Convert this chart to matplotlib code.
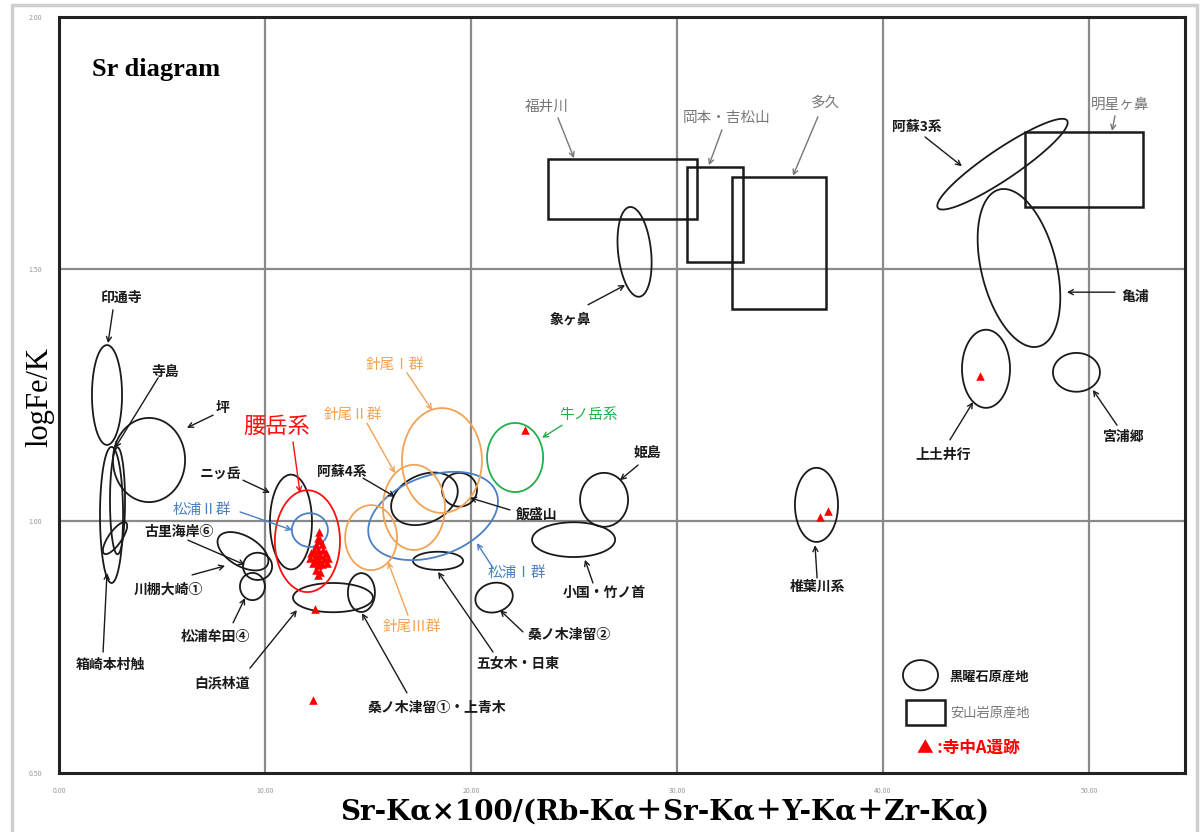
import numpy as np
import matplotlib
matplotlib.use('Agg')
import matplotlib.pyplot as plt
from matplotlib.patches import Polygon, Rectangle

plt.rcParams['font.family'] = ['Noto Sans CJK JP', 'DejaVu Sans']

# ---------------- data ----------------
x_ticks = [0, 10, 20, 30, 40, 50]
y_ticks = [0.5, 1.0, 1.5, 2.0]
x_lim = (0, 54.66)
y_lim = (0.5, 2.0)

# obsidian source areas (ellipses): name, centre x, centre y, width(x units), height(y units), tilt
obs_names = ['印通寺', '寺島', '箱崎本村触', '', '坪', 'ニッ岳', '古里海岸⑥', '川棚大崎①',
             '松浦牟田④', '白浜林道', '桑ノ木津留①・上青木', '五女木・日東', '桑ノ木津留②',
             '小国・竹ノ首', '姫島', '飯盛山', '阿蘇4系', '象ヶ鼻', '阿蘇3系', '亀浦',
             '上土井行', '宮浦郷', '椎葉川系']
obs_cx = [2.33, 2.84, 2.55, 2.72, 4.37, 11.26, 8.93, 9.64, 9.39, 13.30, 14.68, 18.40, 21.12,
          24.98, 26.46, 19.44, 17.74, 27.94, 45.80, 46.60, 45.00, 49.39, 36.77]
obs_cy = [1.250, 1.040, 1.012, 0.966, 1.121, 0.998, 0.940, 0.910, 0.870, 0.848, 0.858, 0.921,
          0.848, 0.963, 1.042, 1.062, 1.044, 1.534, 1.708, 1.502, 1.302, 1.295, 1.032]
obs_w = [1.46, 0.73, 1.12, 1.84, 3.50, 2.04, 2.72, 1.41, 1.21, 3.88, 1.31, 2.43, 1.84,
         4.03, 2.33, 1.70, 3.40, 1.60, 7.57, 3.64, 2.33, 2.28, 2.09]
obs_h = [0.198, 0.212, 0.270, 0.026, 0.167, 0.188, 0.060, 0.054, 0.054, 0.058, 0.077, 0.036,
         0.058, 0.069, 0.107, 0.067, 0.095, 0.179, 0.060, 0.321, 0.155, 0.077, 0.147]
obs_tilt = [0, 0, 0, 55, 0, 0, -30, 0, 0, 0, 0, 0, 15, 0, 0, 0, 25, 6, 34, 14, 0, 0, 0]

# coloured groups (ellipses)
grp_names = ['腰岳系', '松浦Ⅱ群', '松浦Ⅰ群', '針尾Ⅰ群', '針尾Ⅱ群', '針尾Ⅲ群', '牛ノ岳系']
grp_cx = [12.06, 12.18, 18.16, 18.59, 17.23, 15.15, 22.14]
grp_cy = [0.960, 0.982, 1.010, 1.120, 1.027, 0.967, 1.126]
grp_w = [3.16, 1.75, 6.55, 3.88, 3.01, 2.52, 2.72]
grp_h = [0.202, 0.067, 0.159, 0.208, 0.169, 0.129, 0.137]
grp_tilt = [0, 0, 20, 0, 0, 0, 0]
grp_kind = ['red', 'blue', 'blue', 'orange', 'orange', 'orange', 'green']

# andesite source areas (rectangles)
and_names = ['福井川', '岡本・吉松山', '多久', '明星ヶ鼻']
and_x0 = [23.74, 30.49, 32.67, 46.89]
and_x1 = [30.97, 33.20, 37.23, 52.62]
and_y0 = [1.599, 1.514, 1.421, 1.623]
and_y1 = [1.718, 1.702, 1.683, 1.772]

# 寺中A遺跡 samples
site_x = [22.62, 36.94, 37.33, 44.71, 12.43, 12.33,
          12.62, 12.57, 12.67, 12.48, 12.77, 12.38, 12.57, 12.82, 12.23, 12.48, 12.67, 12.96,
          12.18, 12.43, 12.62, 12.86, 13.06, 12.33, 12.57, 12.77, 13.01, 12.48, 12.67, 12.57]
site_y = [1.181, 1.008, 1.020, 1.288, 0.825, 0.645,
          0.978, 0.966, 0.962, 0.952, 0.954, 0.942, 0.942, 0.942, 0.937, 0.933, 0.933, 0.937,
          0.927, 0.923, 0.923, 0.925, 0.927, 0.917, 0.913, 0.915, 0.917, 0.903, 0.899, 0.893]

# labels: text, text position, leader from, leader to, style kind
lab_text = ['印通寺', '寺島', '坪', 'ニッ岳', '松浦Ⅱ群', '古里海岸⑥', '川棚大崎①', '松浦牟田④',
            '箱崎本村触', '腰岳系', '阿蘇4系', '針尾Ⅰ群', '針尾Ⅱ群', '針尾Ⅲ群', '飯盛山',
            '松浦Ⅰ群', '牛ノ岳系', '姫島', '小国・竹ノ首', '桑ノ木津留②', '五女木・日東',
            '桑ノ木津留①・上青木', '白浜林道', '象ヶ鼻', '福井川', '岡本・吉松山', '多久',
            '明星ヶ鼻', '阿蘇3系', '亀浦', '上土井行', '宮浦郷', '椎葉川系']
lab_x = [3.01, 5.15, 7.96, 7.82, 6.94, 5.83, 5.29, 7.57, 2.48, 10.58, 13.74, 16.31, 14.27,
         17.14, 23.20, 22.23, 25.68, 28.54, 26.46, 24.76, 22.28, 18.35, 7.91, 24.81, 23.69,
         32.43, 37.18, 51.50, 41.65, 52.23, 42.91, 51.65, 36.80]
lab_y = [1.442, 1.296, 1.224, 1.091, 1.022, 0.978, 0.863, 0.770, 0.714, 1.187, 1.097, 1.310,
         1.210, 0.790, 1.012, 0.897, 1.210, 1.135, 0.857, 0.774, 0.716, 0.629, 0.677, 1.399,
         1.821, 1.800, 1.829, 1.825, 1.782, 1.444, 1.131, 1.167, 0.869]
lead_x0 = [2.62, 4.81, 7.48, 8.93, 8.79, 6.26, 6.46, 8.45, 2.14, 11.36, 14.76, 16.89, 14.95,
           16.94, 21.89, 21.07, 24.42, 28.11, 25.92, 22.52, 21.07, 16.89, 9.27, 25.68, 24.22,
           32.18, 36.84, 51.26, 42.04, 51.26, 43.25, 51.36, 36.80]
lead_y0 = [1.419, 1.284, 1.210, 1.081, 1.018, 0.962, 0.893, 0.798, 0.740, 1.157, 1.085, 1.294,
           1.194, 0.813, 1.022, 0.907, 1.190, 1.111, 0.877, 0.780, 0.740, 0.659, 0.708, 1.429,
           1.800, 1.776, 1.802, 1.804, 1.762, 1.454, 1.161, 1.190, 0.887]
lead_x1 = [2.38, 2.72, 6.21, 10.24, 11.31, 9.03, 8.06, 9.03, 2.33, 11.70, 16.31, 18.11, 16.31,
           15.97, 19.95, 20.29, 23.45, 27.23, 25.53, 21.41, 18.40, 14.71, 11.55, 27.48, 25.00,
           31.55, 35.63, 51.12, 43.83, 48.93, 44.37, 50.19, 36.70]
lead_y1 = [1.353, 1.145, 1.185, 1.056, 0.982, 0.913, 0.911, 0.847, 0.897, 1.056, 1.048, 1.220,
           1.095, 0.919, 1.046, 0.956, 1.165, 1.081, 0.923, 0.823, 0.899, 0.817, 0.823, 1.468,
           1.720, 1.706, 1.685, 1.774, 1.704, 1.454, 1.236, 1.260, 0.952]
lab_kind = (['black'] * 4 + ['blue'] + ['black'] * 4 +
            ['red', 'black', 'orange', 'orange', 'orange', 'black', 'blue', 'green'] +
            ['black'] * 7 + ['gray'] * 4 + ['black'] * 5)

legend_text = ['黒曜石原産地', '安山岩原産地', '▲ :寺中A遺跡']

# ---------------- styles ----------------
colors = {'black': '#1a1a1a', 'red': '#ff1010', 'blue': '#4a80c4', 'orange': '#f2a355',
          'green': '#22b04a', 'gray': '#777777'}

W, H, DPI = 12.03, 8.32, 100
fig = plt.figure(figsize=(W, H), dpi=DPI)
ax_l, ax_b = 59 / 1203, 1 - 773 / 832
ax_w, ax_h = (1185 - 59) / 1203, (773 - 17) / 832
ax = fig.add_axes([ax_l, ax_b, ax_w, ax_h])
ax.set_xlim(*x_lim)
ax.set_ylim(*y_lim)

# outer light border
fig.patches.append(Rectangle((12 / 1203, -0.01), (1197 - 12) / 1203, (832 - 5) / 832 + 0.01,
                             transform=fig.transFigure, fill=False, ec='#cfcfcf', lw=2.5))

sx = ax_w * W * DPI / (x_lim[1] - x_lim[0])
sy = ax_h * H * DPI / (y_lim[1] - y_lim[0])


def ellipse_xy(cx, cy, w, h, tilt):
    t = np.linspace(0, 2 * np.pi, 240)
    u = w / 2 * np.cos(t) * sx
    v = h / 2 * np.sin(t) * sy
    a = np.deg2rad(tilt)
    ur = u * np.cos(a) - v * np.sin(a)
    vr = u * np.sin(a) + v * np.cos(a)
    return np.column_stack([cx + ur / sx, cy + vr / sy])


for v in x_ticks[1:]:
    ax.axvline(v, color='#8a8a8a', lw=1.6, zorder=0)
for v in y_ticks[1:-1]:
    ax.axhline(v, color='#8a8a8a', lw=1.6, zorder=0)

for cx, cy, w, h, t in zip(obs_cx, obs_cy, obs_w, obs_h, obs_tilt):
    ax.add_patch(Polygon(ellipse_xy(cx, cy, w, h, t), closed=True, fill=False,
                         ec=colors['black'], lw=1.3, zorder=3))
for cx, cy, w, h, t, k in zip(grp_cx, grp_cy, grp_w, grp_h, grp_tilt, grp_kind):
    ax.add_patch(Polygon(ellipse_xy(cx, cy, w, h, t), closed=True, fill=False,
                         ec=colors[k], lw=1.3, zorder=3))
for x0, x1, y0, y1 in zip(and_x0, and_x1, and_y0, and_y1):
    ax.add_patch(Rectangle((x0, y0), x1 - x0, y1 - y0, fill=False, ec=colors['black'],
                           lw=1.8, zorder=3))

ax.scatter(site_x, site_y, marker='^', s=38, color='#ff0000', lw=0, zorder=5)

for txt, tx, ty, x0, y0, x1, y1, k in zip(lab_text, lab_x, lab_y, lead_x0, lead_y0,
                                          lead_x1, lead_y1, lab_kind):
    col = colors[k]
    if k == 'red':
        ax.text(tx, ty, txt, color=col, fontsize=16, ha='center', va='center', zorder=6)
    elif k == 'black':
        ax.text(tx, ty, txt, color=col, fontsize=10, fontweight='bold', ha='center',
                va='center', zorder=6)
    else:
        ax.text(tx, ty, txt, color=col, fontsize=10.5, ha='center', va='center', zorder=6)
    ax.annotate('', xy=(x1, y1), xytext=(x0, y0),
                arrowprops=dict(arrowstyle='->,head_length=0.35,head_width=0.18', color=col,
                                lw=1.0, shrinkA=0, shrinkB=0), zorder=6)

# legend
ax.add_patch(Polygon(ellipse_xy(41.82, 0.694, 1.70, 0.060, 0), closed=True, fill=False,
                     ec=colors['black'], lw=1.3))
ax.add_patch(Rectangle((41.12, 0.595), 1.89, 0.050, fill=False, ec=colors['black'], lw=1.8))
ax.text(43.25, 0.690, legend_text[0], fontsize=9.5, fontweight='bold', color=colors['black'],
        va='center')
ax.text(43.25, 0.619, legend_text[1], fontsize=9.5, color=colors['gray'], va='center')
ax.text(41.65, 0.550, legend_text[2], fontsize=12, fontweight='bold', color='#ff0000',
        va='center')

ax.text(1.6, 1.895, 'Sr diagram', family='Liberation Serif', fontweight='bold', fontsize=19,
        va='center')

ax.set_xticks(x_ticks)
ax.set_yticks(y_ticks)
ax.set_xticklabels([f'{v:.2f}' for v in x_ticks])
ax.set_yticklabels([f'{v:.2f}' for v in y_ticks])
ax.tick_params(length=0, labelsize=5, labelcolor='#9a9a9a')
ax.tick_params(axis='x', pad=10)
ax.tick_params(axis='y', pad=12)
for s in ax.spines.values():
    s.set_linewidth(2.2)
    s.set_color('#222222')

fig.text(665 / 1203, 1 - 812 / 832, 'Sr-Kα×100/(Rb-Kα＋Sr-Kα＋Y-Kα＋Zr-Kα)',
         family=['DejaVu Serif', 'Noto Sans CJK JP'], fontweight='bold', fontsize=20,
         ha='center', va='center')
fig.text(40 / 1203, 1 - 397 / 832, 'logFe/K', family='Liberation Serif', fontsize=22,
         rotation=90, ha='center', va='center')

fig.savefig('out.png', dpi=DPI)
